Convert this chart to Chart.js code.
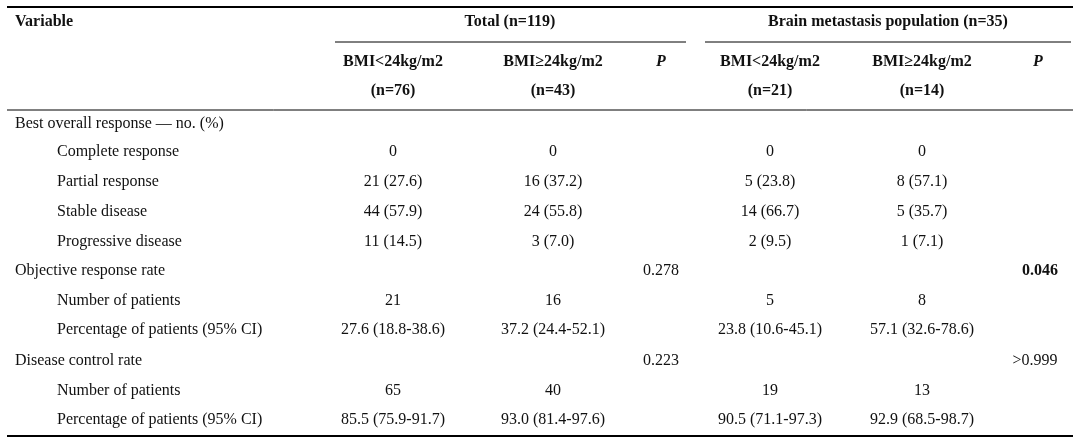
<!DOCTYPE html>
<html>
<head>
<meta charset="utf-8">
<script src="https://cdn.jsdelivr.net/npm/chart.js@4"></script>
<style>
  html, body { margin: 0; padding: 0; background: #fff; }
  #wrap { width: 1080px; height: 442px; }
</style>
</head>
<body>
<div id="wrap"><canvas id="myChart"></canvas></div>
<script>
const ctx = document.getElementById('myChart').getContext('2d');

// column x positions and row y positions of the table
const col = { left: 15, indent: 57, t1: 393, t2: 553, tp: 661, b1: 770, b2: 922, bp: 1038 };
const rows = [
  { y: 22, cells: [[col.left, 'Variable', 'left', true], [510, 'Total (n=119)', 'center', true], [888, 'Brain metastasis population (n=35)', 'center', true]] },
  { y: 62, cells: [[col.t1, 'BMI<24kg/m2', 'center', true], [col.t2, 'BMI≥24kg/m2', 'center', true], [col.tp, 'P', 'center', true, true],
                   [col.b1, 'BMI<24kg/m2', 'center', true], [col.b2, 'BMI≥24kg/m2', 'center', true], [col.bp, 'P', 'center', true, true]] },
  { y: 91, cells: [[col.t1, '(n=76)', 'center', true], [col.t2, '(n=43)', 'center', true], [col.b1, '(n=21)', 'center', true], [col.b2, '(n=14)', 'center', true]] },
  { y: 124, cells: [[col.left, 'Best overall response — no. (%)', 'left']] },
  { y: 152, cells: [[col.indent, 'Complete response', 'left'], [col.t1, '0'], [col.t2, '0'], [col.b1, '0'], [col.b2, '0']] },
  { y: 182, cells: [[col.indent, 'Partial response', 'left'], [col.t1, '21 (27.6)'], [col.t2, '16 (37.2)'], [col.b1, '5 (23.8)'], [col.b2, '8 (57.1)']] },
  { y: 212, cells: [[col.indent, 'Stable disease', 'left'], [col.t1, '44 (57.9)'], [col.t2, '24 (55.8)'], [col.b1, '14 (66.7)'], [col.b2, '5 (35.7)']] },
  { y: 242, cells: [[col.indent, 'Progressive disease', 'left'], [col.t1, '11 (14.5)'], [col.t2, '3 (7.0)'], [col.b1, '2 (9.5)'], [col.b2, '1 (7.1)']] },
  { y: 271, cells: [[col.left, 'Objective response rate', 'left'], [col.tp, '0.278'], [col.bp + 2, '0.046', 'center', true]] },
  { y: 301, cells: [[col.indent, 'Number of patients', 'left'], [col.t1, '21'], [col.t2, '16'], [col.b1, '5'], [col.b2, '8']] },
  { y: 330, cells: [[col.indent, 'Percentage of patients (95% CI)', 'left'], [col.t1, '27.6 (18.8-38.6)'], [col.t2, '37.2 (24.4-52.1)'], [col.b1, '23.8 (10.6-45.1)'], [col.b2, '57.1 (32.6-78.6)']] },
  { y: 361, cells: [[col.left, 'Disease control rate', 'left'], [col.tp, '0.223'], [col.bp - 3, '>0.999']] },
  { y: 391, cells: [[col.indent, 'Number of patients', 'left'], [col.t1, '65'], [col.t2, '40'], [col.b1, '19'], [col.b2, '13']] },
  { y: 420, cells: [[col.indent, 'Percentage of patients (95% CI)', 'left'], [col.t1, '85.5 (75.9-91.7)'], [col.t2, '93.0 (81.4-97.6)'], [col.b1, '90.5 (71.1-97.3)'], [col.b2, '92.9 (68.5-98.7)']] },
];

const cells = [];
rows.forEach(r => r.cells.forEach(c => cells.push({
  x: c[0], y: r.y, text: c[1], align: c[2] || 'center', bold: !!c[3], italic: !!c[4]
})));

// horizontal rules: [x0, x1, y, width]
const rules = [[7, 1073, 7, 2], [335, 686, 42, 1], [705, 1071, 42, 1], [7, 1073, 110, 1], [7, 1073, 436, 2]];

const tablePlugin = {
  id: 'table',
  afterDatasetsDraw(chart) {
    const { ctx, scales: { x, y } } = chart;
    ctx.save();
    ctx.strokeStyle = '#000';
    rules.forEach(r => {
      ctx.lineWidth = r[3];
      ctx.beginPath();
      ctx.moveTo(x.getPixelForValue(r[0]), y.getPixelForValue(r[2]));
      ctx.lineTo(x.getPixelForValue(r[1]), y.getPixelForValue(r[2]));
      ctx.stroke();
    });
    ctx.fillStyle = '#111';
    ctx.textBaseline = 'middle';
    chart.data.datasets[0].data.forEach(c => {
      ctx.font = (c.italic ? 'italic ' : '') + (c.bold ? 'bold ' : '') + '16px "Liberation Serif"';
      ctx.textAlign = c.align;
      ctx.fillText(c.text, x.getPixelForValue(c.x), y.getPixelForValue(c.y));
    });
    ctx.restore();
  }
};

const config = {
  type: 'scatter',
  data: { datasets: [{ data: cells, pointRadius: 0 }] },
  options: {
    responsive: true,
    maintainAspectRatio: false,
    animation: false,
    layout: { padding: 0 },
    plugins: { legend: { display: false }, tooltip: { enabled: false } },
    scales: {
      x: { type: 'linear', min: 0, max: 1080, display: false },
      y: { type: 'linear', min: 0, max: 442, reverse: true, display: false }
    }
  },
  plugins: [tablePlugin]
};

const myChart = new Chart(ctx, config);
</script>
</body>
</html>
